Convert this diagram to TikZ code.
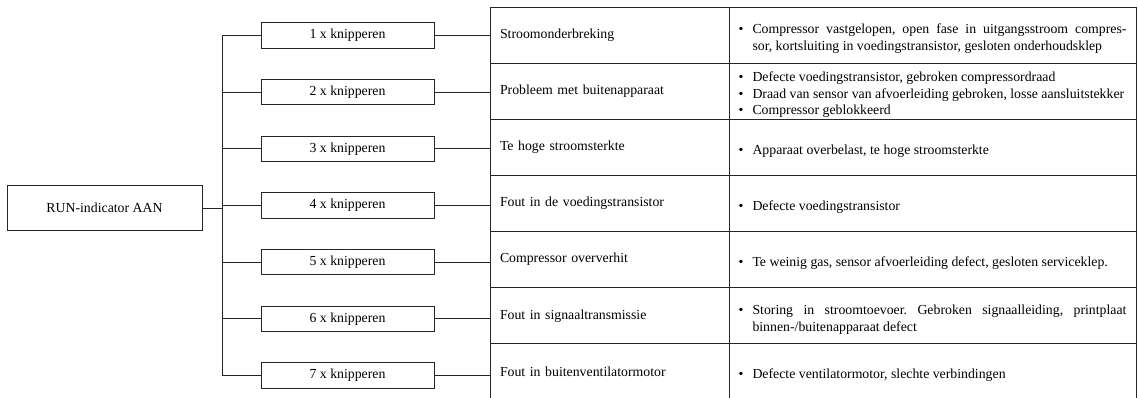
\documentclass[tikz,border=0pt]{standalone}
\usepackage{fontspec}
\setmainfont{Liberation Serif}
\usepackage{tikz}
\usetikzlibrary{positioning}
\frenchspacing
\newcommand\bul[1]{\par\hangindent=14pt\hangafter=1\noindent\makebox[14pt][l]{\textbullet}#1\par}

\begin{document}
\begin{tikzpicture}[x=1pt,y=-1pt,line width=0.9pt,draw=black!85,
  every node/.style={font=\fontsize{13.8}{16.8}\selectfont},
  blinkbox/.style={draw=black!85,minimum width=173pt,minimum height=25.5pt,inner sep=0pt},
  faultcell/.style={draw=black!85,outer sep=0pt,text width=219pt,inner xsep=10pt,inner ysep=0pt,minimum height=56.14pt,align=left},
  causecell/.style={draw=black!85,outer sep=0pt,text width=388pt,inner xsep=9.5pt,inner ysep=0pt,minimum height=56.14pt,align=justify}]
\useasboundingbox (0,0) rectangle (1138,398);
\node[draw=black!85,minimum width=195pt,minimum height=45pt] (run) at (104.5,208) {RUN-indicator AAN};
\coordinate (bus) at (222,0);
\foreach \i/\fault/\cause in {
  1/{Stroomonderbreking}/{\bul{Compressor vastgelopen, open fase in uitgangsstroom compres-\linebreak sor, kortsluiting in voedingstransistor, gesloten onderhoudsklep}},
  2/{Probleem met buitenapparaat}/{\bul{Defecte voedingstransistor, gebroken compressordraad}\bul{Draad van sensor van afvoerleiding gebroken, losse aansluitstekker}\bul{Compressor geblokkeerd}},
  3/{Te hoge stroomsterkte}/{\bul{Apparaat overbelast, te hoge stroomsterkte}},
  4/{Fout in de voedingstransistor}/{\bul{Defecte voedingstransistor}},
  5/{Compressor oververhit}/{\bul{Te weinig gas, sensor afvoerleiding defect, gesloten serviceklep.}},
  6/{Fout in signaaltransmissie}/{\bul{Storing in stroomtoevoer. Gebroken signaalleiding, printplaat\linebreak binnen-/buitenapparaat defect}},
  7/{Fout in buitenventilatormotor}/{\bul{Defecte ventilatormotor, slechte verbindingen}}}{
  \node[blinkbox] (k\i) at (347.5,{35.5+56.67*(\i-1)}) {\i\ x knipperen};
  \node[faultcell,anchor=north west] (f\i) at (490,{7+56.14*(\i-1)}) {\fault};
  \node[causecell,right=0pt of f\i] (c\i) {\cause};
  \draw (k\i.east) -- (k\i.east -| f\i.west);
  \draw (k\i.west -| bus) -- (k\i.west);
}
\draw (k1.west -| bus) -- (k7.west -| bus);
\draw (run.east) -- (run.east -| bus);
\end{tikzpicture}
\end{document}
